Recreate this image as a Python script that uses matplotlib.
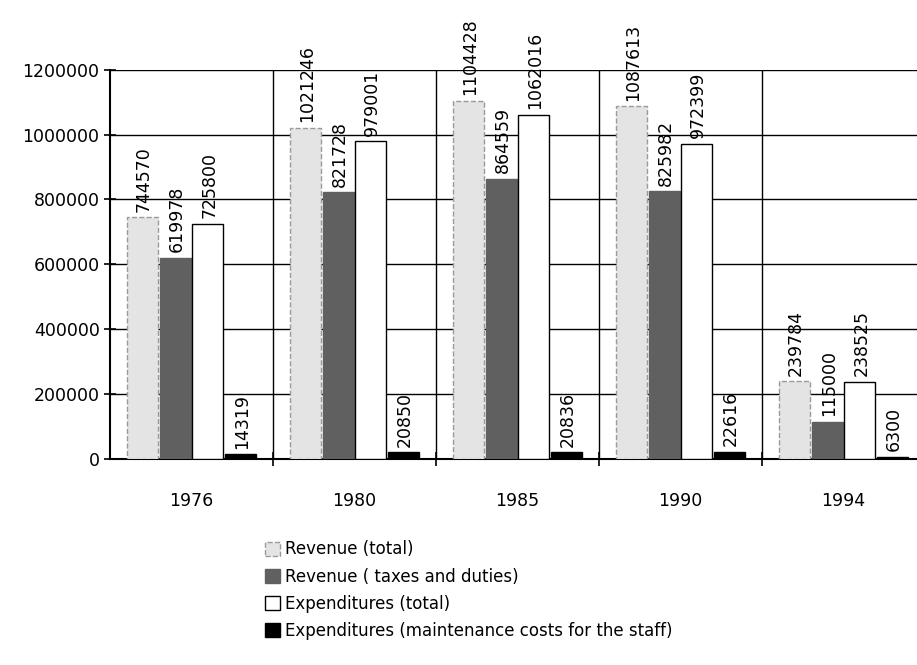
import matplotlib
matplotlib.use("Agg")
import matplotlib.pyplot as plt
from matplotlib.ticker import FuncFormatter
import numpy as np

# data
years = ["1976", "1980", "1985", "1990", "1994"]
rev_total = [744570, 1021246, 1104428, 1087613, 239784]
rev_taxes = [619978, 821728, 864559, 825982, 115000]
exp_total = [725800, 979001, 1062016, 972399, 238525]
exp_staff = [14319, 20850, 20836, 22616, 6300]

series = [
    ("Revenue (total)", rev_total),
    ("Revenue ( taxes and duties)", rev_taxes),
    ("Expenditures (total)", exp_total),
    ("Expenditures (maintenance costs for the staff)", exp_staff),
]
faces = ["#e4e4e4", "#606060", "white", "black"]
edges = ["#9a9a9a", "#606060", "black", "black"]
styles = ["--", "-", "-", "-"]
offsets = [0.2, 0.4, 0.6, 0.8]
width = 0.19

plt.rcParams["font.family"] = ["DejaVu Sans"]

fig = plt.figure(figsize=(9.17, 6.65), dpi=100)
ax = fig.add_axes([0.12, 0.31, 0.88, 0.585])

x = np.arange(len(years))
for k, (name, vals) in enumerate(series):
    ax.bar(x + offsets[k], vals, width, color=faces[k], edgecolor=edges[k],
           linestyle=styles[k], linewidth=1.0, label=name, zorder=3)
    for xi, v in zip(x + offsets[k], vals):
        ax.annotate(str(v), (xi, v), xytext=(1, 4), textcoords="offset points",
                    rotation=90, ha="center", va="bottom", fontsize=12.5,
                    annotation_clip=False, zorder=4)

ax.set_ylim(0, 1200000)
ax.set_xlim(0, 4.95)
ax.set_yticks(np.arange(0, 1200001, 200000))
ax.yaxis.set_major_formatter(FuncFormatter(lambda v, p: "%d" % v))
ax.tick_params(axis="y", labelsize=12.5, direction="inout", length=8, width=1.2)
ax.yaxis.grid(True, color="black", linewidth=1.0, zorder=1)

# group boundaries as ticks + vertical lines, year labels centred in each group
ax.set_xticks(x[1:])
ax.set_xticklabels([])
ax.tick_params(axis="x", direction="inout", length=10, width=1.2)
for b in x[1:]:
    ax.axvline(b, color="black", linewidth=1.0, zorder=1)
ax.set_xticks(x + 0.5, minor=True)
ax.set_xticklabels(years, minor=True, fontsize=12.5)
ax.tick_params(axis="x", which="minor", length=0, pad=24)

for s in ["top", "right"]:
    ax.spines[s].set_visible(False)
ax.spines["left"].set_linewidth(1.5)
ax.spines["bottom"].set_linewidth(1.5)

fig.legend(loc="upper left", bbox_to_anchor=(0.28, 0.2), frameon=False,
           fontsize=12, handlelength=0.9, handleheight=0.9, handletextpad=0.3,
           labelspacing=0.55, borderpad=0)

fig.savefig("out.png", dpi=100)
